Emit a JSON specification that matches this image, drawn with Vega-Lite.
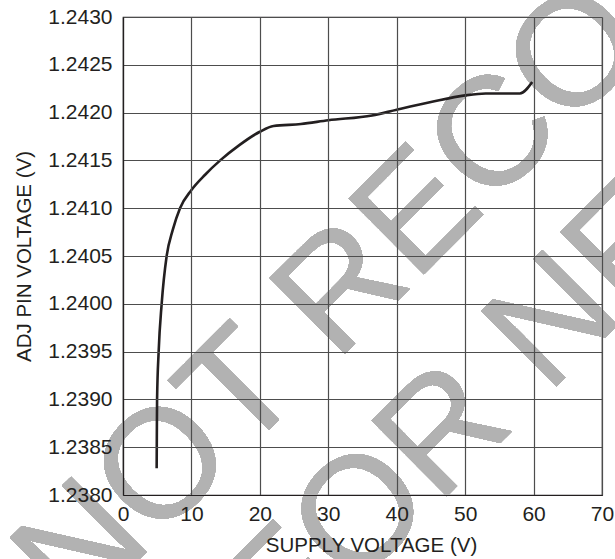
{
  "$schema": "https://vega.github.io/schema/vega-lite/v6.json",
  "width": 479,
  "height": 478,
  "autosize": {"type": "none"},
  "padding": {"left": 123, "top": 17, "right": 13, "bottom": 64},
  "background": "white",
  "config": {
    "font": "Liberation Sans",
    "view": {"stroke": "#231f20", "strokeWidth": 1.2},
    "axis": {
      "labelFont": "Liberation Sans",
      "titleFont": "Liberation Sans",
      "labelFontSize": 21,
      "titleFontSize": 20.5,
      "titleFontWeight": "normal",
      "labelColor": "#231f20",
      "titleColor": "#231f20",
      "ticks": false,
      "domain": true,
      "domainColor": "#231f20",
      "domainWidth": 1.2,
      "grid": true,
      "gridColor": "#4d4d4d",
      "gridOpacity": 1,
      "gridWidth": 1.2
    }
  },
  "data": {
    "values": [
      {"v": 4.92, "adj": 1.23828},
      {"v": 4.95, "adj": 1.2387},
      {"v": 4.98, "adj": 1.2390},
      {"v": 5.21, "adj": 1.2395},
      {"v": 5.65, "adj": 1.2400},
      {"v": 6.38, "adj": 1.2405},
      {"v": 7.26, "adj": 1.24077},
      {"v": 8.33, "adj": 1.2410},
      {"v": 10.0, "adj": 1.24119},
      {"v": 12.0, "adj": 1.24135},
      {"v": 14.2, "adj": 1.24150},
      {"v": 17.0, "adj": 1.24166},
      {"v": 20.0, "adj": 1.24180},
      {"v": 22.0, "adj": 1.24186},
      {"v": 26.0, "adj": 1.24188},
      {"v": 30.0, "adj": 1.24192},
      {"v": 36.4, "adj": 1.24197},
      {"v": 40.0, "adj": 1.24203},
      {"v": 45.0, "adj": 1.24211},
      {"v": 50.0, "adj": 1.24218},
      {"v": 53.0, "adj": 1.24220},
      {"v": 58.0, "adj": 1.24220},
      {"v": 59.8, "adj": 1.24232}
    ]
  },
  "layer": [
    {
      "mark": {
        "type": "text",
        "text": ["NOT RECOMMENDED", "FOR NEW DESIGN"],
        "font": "Liberation Sans",
        "fontSize": 155,
        "lineHeight": 173,
        "angle": -45,
        "align": "center",
        "baseline": "alphabetic",
        "color": "#b2b2b2",
        "clip": false
      },
      "encoding": {
        "x": {"datum": 76.65, "type": "quantitative"},
        "y": {"datum": 1.242645, "type": "quantitative"}
      }
    },
    {
      "mark": {"type": "line", "color": "#231f20", "strokeWidth": 2.6, "interpolate": "monotone"},
      "encoding": {
        "x": {
          "field": "v",
          "type": "quantitative",
          "title": "SUPPLY VOLTAGE (V)",
          "scale": {"domain": [0, 70], "nice": false, "zero": false},
          "axis": {"values": [0, 10, 20, 30, 40, 50, 60, 70], "labelPadding": 8, "titlePadding": 11, "titleX": 248, "labelFlush": false, "zindex": 1}
        },
        "y": {
          "field": "adj",
          "type": "quantitative",
          "title": "ADJ PIN VOLTAGE (V)",
          "scale": {"domain": [1.238, 1.243], "nice": false, "zero": false},
          "axis": {
            "values": [1.238, 1.2385, 1.239, 1.2395, 1.24, 1.2405, 1.241, 1.2415, 1.242, 1.2425, 1.243],
            "format": ".4f",
            "labelPadding": 11,
            "titlePadding": 13,
            "labelFlush": false,
            "zindex": 1
          }
        }
      }
    }
  ]
}
